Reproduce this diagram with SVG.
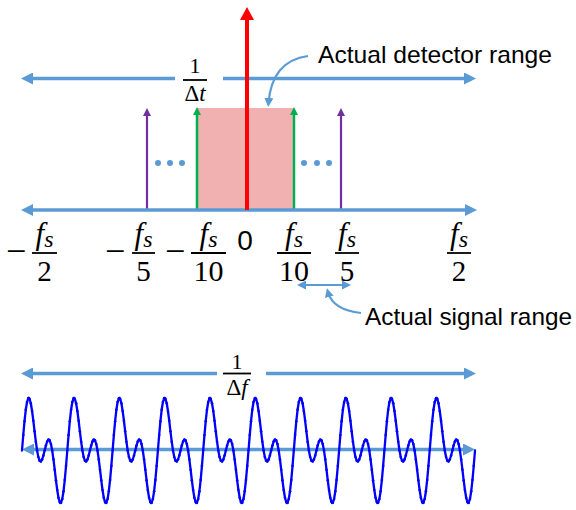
<svg xmlns="http://www.w3.org/2000/svg" xmlns:xlink="http://www.w3.org/1999/xlink" width="576" height="510" viewBox="0 0 576 510">
  <defs>
    <style>
      .blue { fill: none; stroke: #5B9BD5; stroke-width: 3.5; }
      .blue-thin { fill: none; stroke: #5B9BD5; stroke-width: 2.2; }
      .purple { stroke: #7030A0; stroke-width: 2.2; fill: none; }
      .green { stroke: #00B050; stroke-width: 2.5; fill: none; }
      .red { stroke: #FF0000; stroke-width: 4; fill: none; }
      .bar { stroke: #000; stroke-width: 1.8; }
      .math { font-family: "Liberation Serif", "DejaVu Serif", serif; fill: #000; }
      .it { font-style: italic; }
      .minus { font-size: 36px; }
      .label { font-family: "Liberation Sans", Arial, sans-serif; font-size: 24px; fill: #000; }
      .dot { fill: #5B9BD5; }
      .wave { fill: none; stroke: #0000FF; stroke-width: 2.3; stroke-linejoin: round; stroke-linecap: round; }
    </style>
    <marker id="ah-blue" markerUnits="userSpaceOnUse" markerWidth="12" markerHeight="12" refX="8" refY="6" orient="auto-start-reverse">
      <path d="M0,0 L12,6 L0,12 z" fill="#5B9BD5"/>
    </marker>
    <marker id="ah-blue-s" markerUnits="userSpaceOnUse" markerWidth="9" markerHeight="9" refX="5" refY="4.5" orient="auto-start-reverse">
      <path d="M0,0 L9,4.5 L0,9 z" fill="#5B9BD5"/>
    </marker>
    <marker id="ah-purple" markerUnits="userSpaceOnUse" markerWidth="8" markerHeight="8" refX="5" refY="4" orient="auto">
      <path d="M0,0 L8,4 L0,8 z" fill="#7030A0"/>
    </marker>
    <marker id="ah-green" markerUnits="userSpaceOnUse" markerWidth="8" markerHeight="8" refX="5" refY="4" orient="auto">
      <path d="M0,0 L8,4 L0,8 z" fill="#00B050"/>
    </marker>
    <marker id="ah-red" markerUnits="userSpaceOnUse" markerWidth="13" markerHeight="14" refX="8" refY="7" orient="auto">
      <path d="M0,0 L13,7 L0,14 z" fill="#FF0000"/>
    </marker>
    <marker id="bead" markerUnits="userSpaceOnUse" markerWidth="4" markerHeight="4" refX="2" refY="2">
      <circle cx="2" cy="2" r="1.3" fill="#0000FF"/>
    </marker>
    <polyline id="period" class="wave" marker-mid="url(#bead)" points="0,450.5 1.26,435.1 2.52,421.2 3.77,409.8 5.03,402.0 6.29,398.3 6.74,398.0 7.55,398.9 8.81,403.3 10.07,411.0 11.32,420.7 12.58,431.3 13.84,441.7 15.10,450.5 16.36,457.0 17.62,460.7 18.87,461.4 20.13,459.5 21.39,455.5 22.65,450.5 23.91,445.5 25.17,441.5 26.42,439.6 27.68,440.3 28.94,444.0 30.20,450.5 31.46,459.4 32.72,469.7 33.97,480.3 35.23,490.0 36.49,497.7 37.75,502.1 38.55,502.9 39.01,502.7 40.27,499.0 41.52,491.2 42.78,479.9 44.04,465.9 45.3,450.5"/>
  </defs>

  <!-- detector range band -->
  <g id="detector-band">
    <rect x="197" y="108" width="97" height="102" fill="#F2B1B1"/>
  </g>

  <!-- spectral lines -->
  <g id="stems">
    <path class="purple" d="M147,210 L147,111" marker-end="url(#ah-purple)"/>
    <path class="purple" d="M341,210 L341,111" marker-end="url(#ah-purple)"/>
    <path class="green" d="M197,210 L197,110" marker-end="url(#ah-green)"/>
    <path class="green" d="M294,210 L294,110" marker-end="url(#ah-green)"/>
  </g>

  <g id="ellipsis-dots">
    <circle class="dot" cx="158" cy="163" r="3"/>
    <circle class="dot" cx="170" cy="163" r="3"/>
    <circle class="dot" cx="182" cy="163" r="3"/>
    <circle class="dot" cx="304" cy="163" r="3"/>
    <circle class="dot" cx="317" cy="163" r="3"/>
    <circle class="dot" cx="329" cy="163" r="3"/>
  </g>

  <!-- connectors -->
  <g id="connectors">
    <path class="blue" d="M25,78.5 L175,78.5" marker-start="url(#ah-blue)"/>
    <path class="blue" d="M223,78.5 L472,78.5" marker-end="url(#ah-blue)"/>
    <path class="blue" d="M25,210 L473,210" marker-start="url(#ah-blue)" marker-end="url(#ah-blue)"/>
    <path class="blue-thin" d="M301,285 L347,285" marker-start="url(#ah-blue-s)" marker-end="url(#ah-blue-s)"/>
    <path class="blue-thin" d="M308,56 C286,59 271,72 268.5,103" marker-end="url(#ah-blue-s)"/>
    <path class="blue-thin" d="M361,313 C342,311 331,303 328,292" marker-end="url(#ah-blue-s)"/>
    <path class="blue" d="M25,373.5 L217,373.5" marker-start="url(#ah-blue)"/>
    <path class="blue" d="M266,373.5 L472,373.5" marker-end="url(#ah-blue)"/>
    <path class="blue" d="M26,449.5 L471,449.5" marker-start="url(#ah-blue)" marker-end="url(#ah-blue)"/>
  </g>

  <!-- DC line -->
  <g id="dc-line">
    <path class="red" d="M247,210 L247,12" marker-end="url(#ah-red)"/>
  </g>

  <!-- time-domain waveform -->
  <g id="waveform">
    <use xlink:href="#period" x="22"/>
    <use xlink:href="#period" x="67.3"/>
    <use xlink:href="#period" x="112.6"/>
    <use xlink:href="#period" x="157.9"/>
    <use xlink:href="#period" x="203.2"/>
    <use xlink:href="#period" x="248.5"/>
    <use xlink:href="#period" x="293.8"/>
    <use xlink:href="#period" x="339.1"/>
    <use xlink:href="#period" x="384.4"/>
    <use xlink:href="#period" x="429.7"/>
  </g>

  <!-- text labels -->
  <g id="label-detector">
    <text class="label" x="318" y="63" textLength="234" lengthAdjust="spacingAndGlyphs">Actual detector range</text>
  </g>
  <g id="label-signal">
    <text class="label" x="365" y="325" textLength="207" lengthAdjust="spacingAndGlyphs">Actual signal range</text>
  </g>

  <g id="frac-dt">
    <text class="math" x="195" y="73" font-size="22" text-anchor="middle">1</text>
    <line class="bar" x1="183" y1="80" x2="207" y2="80"/>
    <text class="math" x="195" y="101" font-size="23" text-anchor="middle">Δ<tspan class="it">t</tspan></text>
  </g>

  <g id="frac-df">
    <text class="math" x="237" y="369" font-size="22" text-anchor="middle">1</text>
    <line class="bar" x1="223" y1="373.5" x2="251" y2="373.5"/>
    <text class="math" x="237" y="395" font-size="23" text-anchor="middle">Δ<tspan class="it">f</tspan></text>
  </g>

  <g id="tick-labels" class="math">
    <!-- -fs/2 -->
    <text class="minus" x="6" y="263">−</text>
    <text x="44.5" y="244" font-size="31" text-anchor="middle"><tspan class="it">f</tspan><tspan class="it" font-size="24" dy="3">s</tspan></text>
    <line class="bar" x1="32" y1="253" x2="57" y2="253"/>
    <text x="44.5" y="281" font-size="29" text-anchor="middle">2</text>
    <!-- -fs/5 -->
    <text class="minus" x="105" y="263">−</text>
    <text x="143.5" y="244" font-size="31" text-anchor="middle"><tspan class="it">f</tspan><tspan class="it" font-size="24" dy="3">s</tspan></text>
    <line class="bar" x1="132" y1="253" x2="155" y2="253"/>
    <text x="143.5" y="281" font-size="29" text-anchor="middle">5</text>
    <!-- -fs/10 -->
    <text class="minus" x="165" y="263">−</text>
    <text x="208.5" y="244" font-size="31" text-anchor="middle"><tspan class="it">f</tspan><tspan class="it" font-size="24" dy="3">s</tspan></text>
    <line class="bar" x1="191" y1="253" x2="226" y2="253"/>
    <text x="208.5" y="281" font-size="30" text-anchor="middle">10</text>
    <!-- 0 -->
    <text x="245" y="250" font-size="28" text-anchor="middle" font-family="Liberation Sans, Arial, sans-serif">0</text>
    <!-- fs/10 -->
    <text x="294" y="244" font-size="31" text-anchor="middle"><tspan class="it">f</tspan><tspan class="it" font-size="24" dy="3">s</tspan></text>
    <line class="bar" x1="277" y1="253" x2="311" y2="253"/>
    <text x="294" y="281" font-size="30" text-anchor="middle">10</text>
    <!-- fs/5 -->
    <text x="347" y="244" font-size="31" text-anchor="middle"><tspan class="it">f</tspan><tspan class="it" font-size="24" dy="3">s</tspan></text>
    <line class="bar" x1="335" y1="253" x2="359" y2="253"/>
    <text x="347" y="281" font-size="29" text-anchor="middle">5</text>
    <!-- fs/2 -->
    <text x="459" y="244" font-size="31" text-anchor="middle"><tspan class="it">f</tspan><tspan class="it" font-size="24" dy="3">s</tspan></text>
    <line class="bar" x1="447" y1="253" x2="471" y2="253"/>
    <text x="459" y="281" font-size="29" text-anchor="middle">2</text>
  </g>
</svg>
